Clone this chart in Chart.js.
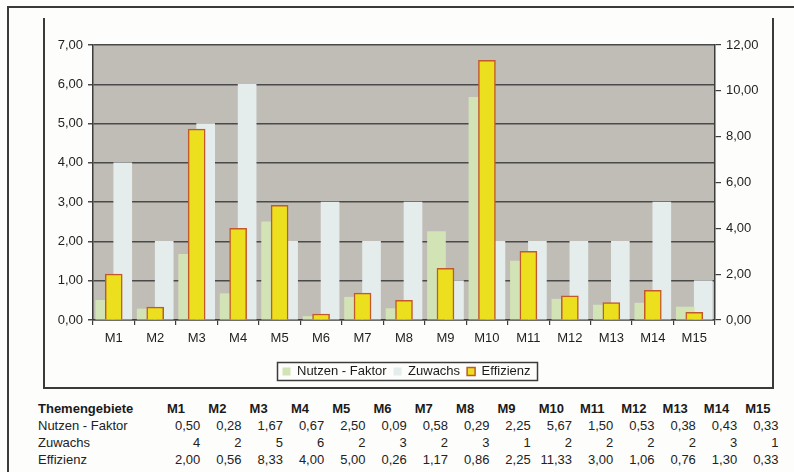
<!DOCTYPE html>
<html lang="de">
<head>
<meta charset="utf-8">
<title>Themengebiete – Nutzen, Zuwachs, Effizienz</title>
<script src="https://cdn.jsdelivr.net/npm/chart.js@4/dist/chart.umd.min.js"></script>
<style>
  html, body { margin: 0; padding: 0; background: #fdfdfb; }
  body { width: 794px; height: 472px; position: relative; overflow: hidden;
         font-family: "Liberation Sans", Arial, sans-serif; color: #222; }
  #chartWrap { position: absolute; left: 0; top: 0; width: 794px; height: 390px; }
  .line { position: absolute; background: #3a3a3a; }
  #tbl { position: absolute; left: 38px; top: 400px; border-collapse: collapse;
         table-layout: fixed; font-size: 13px; line-height: 17px; }
  #tbl td { padding: 0; white-space: nowrap; }
  #tbl td.lbl { width: 121px; text-align: left; }
  #tbl td.val { width: 41.3px; text-align: right; }
  #tbl tr.head td { font-weight: bold; color: #1a1a1a; }
  #tbl tr.head td.val { text-align: left; padding-left: 8px; box-sizing: border-box; }
</style>
</head>
<body>
<!-- frame lines -->
<div class="line" style="left:7px; top:6px; width:787px; height:2px;"></div>
<div class="line" style="left:7px; top:6px; width:2px; height:466px;"></div>
<div class="line" style="left:43px; top:18px; width:2px; height:371px;"></div>
<div class="line" style="left:772px; top:18px; width:1.5px; height:371px;"></div>
<div class="line" style="left:43px; top:387px; width:731px; height:2px;"></div>

<div id="chartWrap"><canvas id="chart" width="794" height="390"></canvas></div>
<table id="tbl"></table>

<script>
// Themengebiete and their values
const categories = ['M1','M2','M3','M4','M5','M6','M7','M8','M9','M10','M11','M12','M13','M14','M15'];
const nutzenFaktor = [0.50, 0.28, 1.67, 0.67, 2.50, 0.09, 0.58, 0.29, 2.25, 5.67, 1.50, 0.53, 0.38, 0.43, 0.33];
const zuwachs      = [4, 2, 5, 6, 2, 3, 2, 3, 1, 2, 2, 2, 2, 3, 1];
const effizienz    = [2.00, 0.56, 8.33, 4.00, 5.00, 0.26, 1.17, 0.86, 2.25, 11.33, 3.00, 1.06, 0.76, 1.30, 0.33];
const leftTicks  = [0, 1, 2, 3, 4, 5, 6, 7];
const rightTicks = [0, 2, 4, 6, 8, 10, 12];

const fmt2 = v => v.toFixed(2).replace('.', ',');
const FONT = { family: '"Liberation Sans", Arial, sans-serif', size: 13 };

// grey plot background
const plotBackground = {
  id: 'plotBackground',
  beforeDraw(chart) {
    const { ctx, chartArea: a } = chart;
    ctx.save();
    ctx.fillStyle = '#c0bdb7';
    ctx.fillRect(a.left, a.top, a.right - a.left, a.bottom - a.top);
    ctx.restore();
  }
};

// frame around the legend entries
const legendFrame = {
  id: 'legendFrame',
  afterDraw(chart) {
    const boxes = chart.legend && chart.legend.legendHitBoxes;
    if (!boxes || !boxes.length) return;
    const left = Math.min(...boxes.map(b => b.left));
    const right = Math.max(...boxes.map(b => b.left + b.width));
    const top = Math.min(...boxes.map(b => b.top));
    const bottom = Math.max(...boxes.map(b => b.top + b.height));
    const ctx = chart.ctx;
    ctx.save();
    ctx.strokeStyle = '#3c3c3c';
    ctx.lineWidth = 1.5;
    ctx.strokeRect(Math.round(left - 6) + 0.5, Math.round(top - 3) + 0.5,
                   Math.round(right - left + 12), Math.round(bottom - top + 5));
    ctx.restore();
  }
};

new Chart(document.getElementById('chart'), {
  type: 'bar',
  data: {
    labels: categories,
    datasets: [
      {
        label: 'Nutzen - Faktor',
        data: nutzenFaktor,
        backgroundColor: '#d2e3b6',
        borderWidth: 0,
        yAxisID: 'y',
        barThickness: 18,
        order: 1
      },
      {
        label: 'Zuwachs',
        data: zuwachs,
        backgroundColor: '#e5ecec',
        borderWidth: 0,
        yAxisID: 'y',
        barThickness: 18,
        order: 1
      },
      {
        // secondary axis: drawn centred on the category, over the pair
        label: 'Effizienz',
        data: effizienz,
        backgroundColor: '#ebdf1e',
        borderColor: '#c2582c',
        borderWidth: 1.5,
        yAxisID: 'y2',
        grouped: false,
        barThickness: 17,
        order: 0
      }
    ]
  },
  options: {
    responsive: false,
    animation: false,
    devicePixelRatio: 1,
    layout: { padding: { left: 40, right: 21, top: 45, bottom: 2 } },
    plugins: {
      legend: {
        position: 'bottom',
        labels: {
          font: FONT, color: '#1a1a1a',
          boxWidth: 8, boxHeight: 8, padding: 7,
          sort: (a, b) => a.datasetIndex - b.datasetIndex
        }
      },
      tooltip: { enabled: false }
    },
    scales: {
      x: {
        type: 'category',
        position: 'bottom',
        offset: true,
        grid: { offset: true, drawOnChartArea: false, drawTicks: true, tickLength: 5, color: '#3c3c3c', lineWidth: 1.2 },
        border: { color: '#3c3c3c', width: 1.5 },
        ticks: { font: FONT, color: '#1f1f1f', padding: 6, maxRotation: 0 },
        afterFit(s) { s.height = 38; }
      },
      y: {
        position: 'left',
        min: 0, max: 7,
        afterBuildTicks(s) { s.ticks = leftTicks.map(v => ({ value: v })); },
        grid: { color: '#4a4a4a', lineWidth: 1.5, tickLength: 5 },
        border: { color: '#3c3c3c', width: 1.5 },
        ticks: { font: FONT, color: '#1f1f1f', padding: 5, callback: v => fmt2(v) },
        afterFit(s) { s.width = 53; }
      },
      y2: {
        position: 'right',
        min: 0, max: 12,
        afterBuildTicks(s) { s.ticks = rightTicks.map(v => ({ value: v })); },
        grid: { drawOnChartArea: false, color: '#3c3c3c', lineWidth: 1.2, tickLength: 6 },
        border: { color: '#3c3c3c', width: 1.5 },
        ticks: { font: FONT, color: '#1f1f1f', padding: 5, callback: v => fmt2(v) },
        afterFit(s) { s.width = 58; }
      }
    }
  },
  plugins: [plotBackground, legendFrame]
});

// data table under the chart
const tbl = document.getElementById('tbl');
function addRow(label, values, cls) {
  const tr = document.createElement('tr');
  if (cls) tr.className = cls;
  const td0 = document.createElement('td');
  td0.className = 'lbl';
  td0.textContent = label;
  tr.appendChild(td0);
  values.forEach(v => {
    const td = document.createElement('td');
    td.className = 'val';
    td.textContent = v;
    tr.appendChild(td);
  });
  tbl.appendChild(tr);
}
addRow('Themengebiete', categories, 'head');
addRow('Nutzen - Faktor', nutzenFaktor.map(fmt2));
addRow('Zuwachs', zuwachs.map(String));
addRow('Effizienz', effizienz.map(fmt2));
</script>
</body>
</html>
